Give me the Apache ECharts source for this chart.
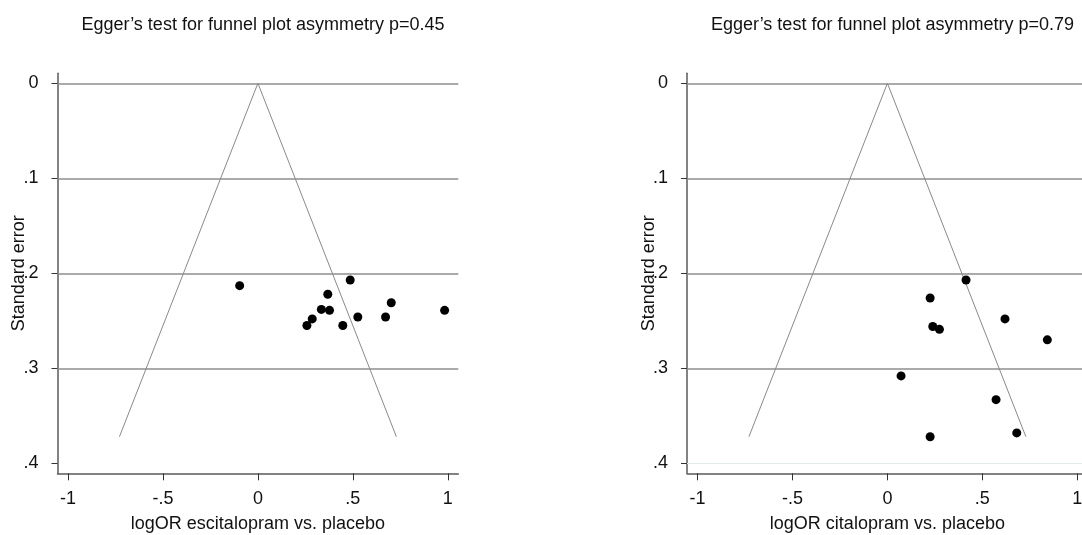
<!DOCTYPE html>
<html>
<head>
<meta charset="utf-8">
<script src="https://cdn.jsdelivr.net/npm/echarts@6/dist/echarts.min.js"></script>
<style>
  html, body { margin: 0; padding: 0; background: #ffffff; }
  #chart { width: 1082px; height: 535px; }
</style>
</head>
<body>
<div id="chart"></div>
<script>
// Study estimates: log odds ratio vs. placebo and its standard error
const escitalopramLogOR = [-0.096, 0.486, 0.368, 0.334, 0.377, 0.702, 0.983, 0.286, 0.258, 0.447, 0.526, 0.672];
const escitalopramSE    = [0.213, 0.207, 0.222, 0.238, 0.239, 0.231, 0.239, 0.248, 0.255, 0.255, 0.246, 0.246];
const citalopramLogOR   = [0.414, 0.225, 0.239, 0.274, 0.619, 0.842, 0.072, 0.572, 0.681, 0.225];
const citalopramSE      = [0.207, 0.226, 0.256, 0.259, 0.248, 0.270, 0.308, 0.333, 0.368, 0.372];

// Pseudo 95% confidence limits around 0, down to the largest standard error
const funnelSE = 0.372;
const funnelHalfWidth = 0.729;

const xTicks = [-1, -0.5, 0, 0.5, 1];
const yTicks = [0, 0.1, 0.2, 0.3, 0.4];
const gridLevels = [0, 0.1, 0.2, 0.3];

const panelTitles = [
  'Egger\u2019s test for funnel plot asymmetry p=0.45',
  'Egger\u2019s test for funnel plot asymmetry p=0.79'
];
const xTitles = ['logOR escitalopram vs. placebo', 'logOR citalopram vs. placebo'];
const yTitle = 'Standard error';

const FONT = '"Liberation Sans", Arial, Helvetica, sans-serif';
const TEXT = '#111111';
const AXIS = '#5a5a5a';

// Stata-style numbers: drop the leading zero (".5", "-.5")
const stataNum = v => {
  if (Math.abs(v) < 1e-9) return '0';
  const s = String(Math.round(v * 1000) / 1000);
  return s.replace(/^(-?)0\./, '$1.');
};

const panels = [
  { left: 57.5, x: escitalopramLogOR, y: escitalopramSE, faintBottom: false },
  { left: 687,  x: citalopramLogOR,   y: citalopramSE,   faintBottom: true }
];

const option = {
  animation: false,
  backgroundColor: '#ffffff',
  textStyle: { fontFamily: FONT },
  title: panels.map((p, i) => ({
    text: panelTitles[i],
    left: p.left + 200.5,
    top: 11,
    textAlign: 'center',
    textStyle: { fontFamily: FONT, fontSize: 18, fontWeight: 'normal', color: TEXT }
  })),
  grid: panels.map(p => ({
    left: p.left, top: 73.3, width: 400.8, height: 400,
    containLabel: false, outerBoundsMode: 'none'
  })),
  xAxis: panels.map((p, i) => ({
    gridIndex: i,
    type: 'value',
    min: -1.055,
    max: 1.055,
    name: xTitles[i],
    nameLocation: 'middle',
    nameGap: 42,
    nameMoveOverlap: false,
    nameTextStyle: { fontFamily: FONT, fontSize: 18, color: TEXT },
    axisLine: { show: true, onZero: false, lineStyle: { color: AXIS, width: 1.5 } },
    axisTick: { show: true, customValues: xTicks, length: 7, lineStyle: { color: '#333', width: 1 } },
    axisLabel: { customValues: xTicks, formatter: stataNum, margin: 17,
                 fontFamily: FONT, fontSize: 18, color: TEXT },
    splitLine: { show: false }
  })),
  yAxis: panels.map((p, i) => ({
    gridIndex: i,
    type: 'value',
    inverse: true,
    min: -0.0105,
    max: 0.4105,
    name: yTitle,
    nameLocation: 'middle',
    nameGap: 29,
    nameMoveOverlap: false,
    nameTextStyle: { fontFamily: FONT, fontSize: 18, color: TEXT },
    axisLine: { show: true, onZero: false, lineStyle: { color: AXIS, width: 1.5 } },
    axisTick: { show: true, customValues: yTicks, length: 6, lineStyle: { color: '#333', width: 1 } },
    axisLabel: { customValues: yTicks, formatter: stataNum, margin: 19,
                 fontFamily: FONT, fontSize: 18, color: TEXT },
    splitLine: { show: false }
  })),
  series: []
};

panels.forEach((p, i) => {
  // horizontal reference lines at the labelled standard errors
  const levels = gridLevels.map(v => ({
    yAxis: v, lineStyle: { color: '#8e8e8e', width: 1.6, type: 'solid' }
  }));
  if (p.faintBottom) {
    levels.push({ yAxis: 0.4, lineStyle: { color: '#e2eaed', width: 1, type: 'solid' } });
  }
  option.series.push({
    type: 'line',
    xAxisIndex: i,
    yAxisIndex: i,
    data: [[-funnelHalfWidth, funnelSE], [0, 0], [funnelHalfWidth, funnelSE]],
    showSymbol: false,
    symbol: 'none',
    silent: true,
    z: 2,
    lineStyle: { color: '#8a8a8a', width: 1 },
    markLine: {
      silent: true,
      symbol: ['none', 'none'],
      label: { show: false },
      emphasis: { disabled: true },
      data: levels,
      z: 1
    }
  });
  option.series.push({
    type: 'scatter',
    xAxisIndex: i,
    yAxisIndex: i,
    data: p.x.map((v, k) => [v, p.y[k]]),
    symbol: 'circle',
    symbolSize: 9,
    itemStyle: { color: '#000000', opacity: 1 },
    z: 5
  });
});

const chart = echarts.init(document.getElementById('chart'), null, { renderer: 'canvas' });
chart.setOption(option);
</script>
</body>
</html>
